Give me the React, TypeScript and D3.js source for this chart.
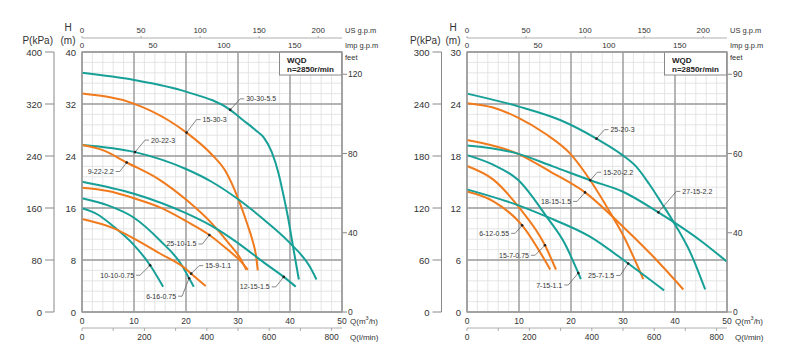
import React from 'react';
import * as d3 from 'd3';

type Pt = [number, number];

// ---------- shared axis ticks ----------
const Q_TICKS = [0, 10, 20, 30, 40, 50];
const LMIN_TICKS = [0, 100, 200, 300, 400, 500, 600, 700, 800];
const LMIN_LABELS = [0, 200, 400, 600, 800];
const US_GPM_TICKS = [0, 50, 100, 150, 200];
const IMP_GPM_TICKS = [0, 50, 100, 150];

// ---------- left chart ----------
const L_H_TICKS = [0, 8, 16, 24, 32, 40];
const L_P_TICKS = [0, 80, 160, 240, 320, 400];
const L_FEET_TICKS = [0, 40, 80, 120];
const L_FEET_LABELS = ['0', '40', '80', '120'];

const L_30_30_55: Pt[] = [[0, 36.8], [10, 35.7], [20, 33.9], [28.5, 31.1], [31, 29.5], [33.5, 27.9], [35, 26.8], [36.5, 24.6], [37.8, 21.3], [38.6, 18.5], [39.7, 14.2], [40.6, 10.0], [41.7, 5.0]];
const L_15_30_3: Pt[] = [[0, 33.6], [9.8, 32.1], [16.6, 29.5], [20.1, 27.6], [25, 24.2], [27.5, 21.8], [30.1, 17.3], [31.8, 13.5], [32.75, 11.1], [33.5, 8.5], [33.8, 6.4]];
const L_20_22_3: Pt[] = [[0, 25.7], [10.2, 24.6], [20, 22.0], [25, 20.0], [30.1, 17.3], [35, 14.2], [40, 10.6], [43.8, 7.0], [45.1, 5.0]];
const L_9_22_22: Pt[] = [[0, 25.7], [4, 24.9], [8.6, 23.0], [15, 20.3], [20, 17.3], [25, 13.6], [28, 10.8], [30.4, 8.3], [31.6, 6.5]];
const L_25_10_15: Pt[] = [[0, 19.1], [5, 18.6], [10, 17.5], [15, 16.1], [20, 14.0], [24.5, 11.85], [28, 9.6], [30.4, 7.9], [31.9, 6.5]];
const L_12_15_15: Pt[] = [[0, 20.05], [10, 18.2], [20, 15.2], [25, 13.2], [30, 10.6], [35, 7.6], [38.8, 5.4], [41.1, 3.9]];
const L_6_16_075: Pt[] = [[0, 17.5], [5, 16.4], [10, 14.5], [15, 11.0], [19.2, 7.2], [20.6, 5.2], [21.5, 3.9]];
const L_10_10_075: Pt[] = [[0, 15.95], [3, 15.0], [6, 13.2], [10, 10.3], [13.1, 7.2], [15.6, 3.9]];
const L_15_9_11: Pt[] = [[0, 14.3], [6, 12.9], [10, 11.3], [15, 9.0], [20, 6.6], [21, 5.9], [23.8, 4.0]];

// ---------- right chart ----------
const R_H_TICKS = [0, 6, 12, 18, 24, 30];
const R_P_TICKS = [0, 60, 120, 180, 240, 300];
const R_FEET_TICKS = [0, 30, 60, 90];
const R_FEET_LABELS = ['0', '40', '60', '90'];

const R_25_20_3: Pt[] = [[0, 25.2], [10, 23.7], [17.9, 22.15], [24.9, 20.0], [29.9, 18.1], [32.5, 16.8], [35, 14.8], [37.5, 12.5], [39.7, 10.4], [43, 6.8], [45.8, 2.6]];
const R_15_20_22: Pt[] = [[0, 24.1], [5, 23.6], [9.9, 22.4], [15, 20.6], [19.8, 18.3], [23.7, 15.2], [27.8, 11.2], [29.9, 9.0], [33.9, 3.8]];
const R_18_15_15: Pt[] = [[0, 19.85], [9.6, 18.3], [16, 16.2], [22.7, 13.8], [29.9, 9.9], [35.8, 6.4], [41.6, 2.6]];
const R_27_15_22: Pt[] = [[0, 19.2], [9.6, 18.3], [16.5, 16.8], [23.7, 15.2], [29.9, 13.9], [36.8, 11.5], [39.7, 10.4], [45, 8.2], [50, 5.8]];
const R_7_15_11: Pt[] = [[0, 18.1], [5, 17.0], [9.9, 15.2], [15.3, 11.0], [18.8, 7.9], [21.4, 4.5], [21.9, 3.8]];
const R_15_7_075: Pt[] = [[0, 16.85], [5, 15.3], [9.9, 12.15], [15, 7.7], [17.1, 4.9]];
const R_6_12_055: Pt[] = [[0, 13.9], [5, 12.8], [10.6, 10.0], [16, 4.9]];
const R_25_7_15: Pt[] = [[0, 14.15], [9.9, 12.3], [15.3, 11.0], [23.65, 8.7], [31, 5.6], [37.9, 2.5]];

const TEAL = '#17a097';
const ORANGE = '#f07a1c';
const FONT = "'Liberation Sans', Arial, Helvetica, sans-serif";

interface Curve { name: string; pts: Pt[]; color: string }
interface Label { name: string; q: number; ex: number; ey: number }

const LEFT_CURVES: Curve[] = [
  { name: '30-30-5.5', pts: L_30_30_55, color: TEAL },
  { name: '15-30-3', pts: L_15_30_3, color: ORANGE },
  { name: '20-22-3', pts: L_20_22_3, color: TEAL },
  { name: '9-22-2.2', pts: L_9_22_22, color: ORANGE },
  { name: '12-15-1.5', pts: L_12_15_15, color: TEAL },
  { name: '25-10-1.5', pts: L_25_10_15, color: ORANGE },
  { name: '6-16-0.75', pts: L_6_16_075, color: TEAL },
  { name: '10-10-0.75', pts: L_10_10_075, color: TEAL },
  { name: '15-9-1.1', pts: L_15_9_11, color: ORANGE },
];

const RIGHT_CURVES: Curve[] = [
  { name: '25-20-3', pts: R_25_20_3, color: TEAL },
  { name: '15-20-2.2', pts: R_15_20_22, color: ORANGE },
  { name: '18-15-1.5', pts: R_18_15_15, color: ORANGE },
  { name: '27-15-2.2', pts: R_27_15_22, color: TEAL },
  { name: '7-15-1.1', pts: R_7_15_11, color: TEAL },
  { name: '15-7-0.75', pts: R_15_7_075, color: ORANGE },
  { name: '6-12-0.55', pts: R_6_12_055, color: ORANGE },
  { name: '25-7-1.5', pts: R_25_7_15, color: TEAL },
];

const LEFT_LABELS: Label[] = [
  { name: '30-30-5.5', q: 28.5, ex: 10, ey: -11 },
  { name: '15-30-3', q: 20.1, ex: 10, ey: -13 },
  { name: '20-22-3', q: 10.2, ex: 10, ey: -12 },
  { name: '9-22-2.2', q: 8.6, ex: -7, ey: 9 },
  { name: '25-10-1.5', q: 24.5, ex: -7, ey: 9 },
  { name: '15-9-1.1', q: 21, ex: 8, ey: -8 },
  { name: '10-10-0.75', q: 13.1, ex: -10, ey: 10 },
  { name: '6-16-0.75', q: 20.6, ex: -7, ey: 18 },
  { name: '12-15-1.5', q: 38.8, ex: -8, ey: 10 },
];

const RIGHT_LABELS: Label[] = [
  { name: '25-20-3', q: 24.9, ex: 8, ey: -9 },
  { name: '15-20-2.2', q: 23.7, ex: 7, ey: -8 },
  { name: '18-15-1.5', q: 22.7, ex: -8, ey: 9 },
  { name: '27-15-2.2', q: 36.8, ex: 18, ey: -21 },
  { name: '6-12-0.55', q: 10.6, ex: -7, ey: 8 },
  { name: '15-7-0.75', q: 15, ex: -10, ey: 10 },
  { name: '7-15-1.1', q: 21.4, ex: -10, ey: 12 },
  { name: '25-7-1.5', q: 31, ex: -8, ey: 12 },
];

function interpH(pts: Pt[], q: number): number {
  for (let i = 0; i < pts.length - 1; i++) {
    const [x1, y1] = pts[i];
    const [x2, y2] = pts[i + 1];
    if (q >= x1 && q <= x2) return y1 + ((q - x1) / (x2 - x1)) * (y2 - y1);
  }
  return pts[pts.length - 1][1];
}

interface ChartProps {
  x0: number;
  pGap: number;
  hMax: number;
  pMax: number;
  hTicks: number[];
  pTicks: number[];
  feetTicks: number[];
  feetLabels: string[];
  curves: Curve[];
  labels: Label[];
}

const TOP = 52;
const BOTTOM = 312;
const PW = 260;

function PumpChart(props: ChartProps) {
  const { x0, pGap, hMax, pMax, hTicks, pTicks, feetTicks, feetLabels, curves, labels } = props;
  const x = d3.scaleLinear().domain([0, 50]).range([x0, x0 + PW]);
  const y = d3.scaleLinear().domain([0, hMax]).range([BOTTOM, TOP]);
  const yP = d3.scaleLinear().domain([0, pMax]).range([BOTTOM, TOP]);
  const xUS = d3.scaleLinear().domain([0, 50 * 4.4029]).range([x0, x0 + PW]);
  const xImp = d3.scaleLinear().domain([0, 50 * 3.6662]).range([x0, x0 + PW]);
  const xL = d3.scaleLinear().domain([0, 50 * 16.6667]).range([x0, x0 + PW]);
  const line = d3.line<Pt>().x(d => x(d[0])).y(d => y(d[1])).curve(d3.curveMonotoneX);

  const minorX = d3.range(0, 50.001, 2);
  const minorY = d3.range(0, hMax + 1e-6, hMax / 25);
  const pAxisX = x0 - pGap;
  const xr = x0 + PW;

  return (
    <g fontFamily={FONT}>
      {/* minor grid */}
      {minorX.map((v, i) => (
        <line key={'mx' + i} x1={x(v)} x2={x(v)} y1={TOP} y2={BOTTOM} stroke="#dedede" strokeWidth={0.8} />
      ))}
      {minorY.map((v, i) => (
        <line key={'my' + i} x1={x0} x2={xr} y1={y(v)} y2={y(v)} stroke="#dedede" strokeWidth={0.8} />
      ))}
      {/* major grid */}
      {Q_TICKS.map(v => (
        <line key={'gx' + v} x1={x(v)} x2={x(v)} y1={TOP} y2={BOTTOM} stroke="#9c9c9c" strokeWidth={1.4} />
      ))}
      {hTicks.map(v => (
        <line key={'gy' + v} x1={x0} x2={xr} y1={y(v)} y2={y(v)} stroke="#9c9c9c" strokeWidth={1.4} />
      ))}

      {/* curves */}
      {curves.map(c => (
        <path key={c.name} d={line(c.pts) || ''} fill="none" stroke={c.color} strokeWidth={2} />
      ))}

      {/* labels */}
      {labels.map(l => {
        const c = curves.find(cc => cc.name === l.name)!;
        const px = x(l.q);
        const py = y(interpH(c.pts, l.q));
        const sgn = l.ex >= 0 ? 1 : -1;
        const exx = px + l.ex;
        const eyy = py + l.ey;
        return (
          <g key={'lab' + l.name}>
            <polyline points={`${px},${py} ${exx},${eyy} ${exx + sgn * 4},${eyy}`} fill="none" stroke="#555" strokeWidth={0.7} />
            <circle cx={px} cy={py} r={1.3} fill="#222" />
            <text x={exx + sgn * 6} y={eyy} fontSize={7} fill="#333" dominantBaseline="central" textAnchor={sgn > 0 ? 'start' : 'end'}>{l.name}</text>
          </g>
        );
      })}

      {/* WQD box */}
      <rect x={x0 + 197.5} y={TOP} width={62} height={23} fill="#fff" stroke="#888" strokeWidth={1} />
      <text x={x0 + 205} y={TOP + 8.5} fontSize={8} fontWeight="bold" fill="#222" dominantBaseline="central">WQD</text>
      <text x={x0 + 205} y={TOP + 17} fontSize={8} fontWeight="bold" fill="#222" dominantBaseline="central">n=2850r/min</text>

      {/* H tick labels */}
      {hTicks.map(v => (
        <text key={'ht' + v} x={x0 - 6} y={y(v)} fontSize={9.5} fill="#333" textAnchor="end" dominantBaseline="central">{v}</text>
      ))}
      <text x={x0 - 14} y={27} fontSize={10} fill="#333" textAnchor="middle" dominantBaseline="central">H</text>
      <text x={x0 - 14} y={40} fontSize={10} fill="#333" textAnchor="middle" dominantBaseline="central">(m)</text>

      {/* P axis */}
      <line x1={pAxisX} x2={pAxisX} y1={TOP} y2={BOTTOM} stroke="#888" strokeWidth={1} />
      {pTicks.map(v => (
        <g key={'pt' + v}>
          <line x1={pAxisX - 9} x2={pAxisX} y1={yP(v)} y2={yP(v)} stroke="#888" strokeWidth={1} />
          <text x={pAxisX - 12} y={yP(v)} fontSize={9.5} fill="#333" textAnchor="end" dominantBaseline="central">{v}</text>
        </g>
      ))}
      <text x={pAxisX - 1} y={40} fontSize={10} fill="#333" textAnchor="end" dominantBaseline="central">P(kPa)</text>

      {/* feet axis */}
      {feetTicks.map((v, i) => (
        <g key={'ft' + v}>
          <line x1={xr} x2={xr + 5} y1={y(v * 0.3048)} y2={y(v * 0.3048)} stroke="#888" strokeWidth={1} />
          <text x={xr + 6} y={y(v * 0.3048)} fontSize={8.5} fill="#333" dominantBaseline="central">{feetLabels[i]}</text>
        </g>
      ))}
      <text x={xr + 3} y={57} fontSize={7.5} fill="#333" dominantBaseline="central">feet</text>

      {/* top axes */}
      <line x1={x0} x2={xr} y1={38} y2={38} stroke="#999" strokeWidth={0.8} />
      {US_GPM_TICKS.map(v => (
        <g key={'us' + v}>
          <line x1={xUS(v)} x2={xUS(v)} y1={36} y2={38} stroke="#999" strokeWidth={0.8} />
          <text x={xUS(v)} y={30.5} fontSize={8} fill="#333" textAnchor="middle" dominantBaseline="central">{v}</text>
        </g>
      ))}
      <text x={xr + 3} y={30} fontSize={7.5} fill="#333" dominantBaseline="central">US g.p.m</text>
      {IMP_GPM_TICKS.map(v => (
        <text key={'imp' + v} x={xImp(v)} y={45.5} fontSize={8} fill="#333" textAnchor="middle" dominantBaseline="central">{v}</text>
      ))}
      <text x={xr + 3} y={45} fontSize={7.5} fill="#333" dominantBaseline="central">Imp g.p.m</text>

      {/* bottom axes */}
      {Q_TICKS.map(v => (
        <text key={'q' + v} x={x(v)} y={321} fontSize={8.5} fill="#333" textAnchor="middle" dominantBaseline="central">{v}</text>
      ))}
      <text x={xr + 8} y={321} fontSize={8} fill="#333" dominantBaseline="central">Q(m<tspan fontSize={5.5} dy={-3}>3</tspan><tspan dy={3}>/h)</tspan></text>
      <line x1={x0} x2={xr} y1={328} y2={328} stroke="#999" strokeWidth={0.8} />
      {LMIN_TICKS.map(v => (
        <line key={'lt' + v} x1={xL(v)} x2={xL(v)} y1={328} y2={331} stroke="#999" strokeWidth={0.8} />
      ))}
      {LMIN_LABELS.map(v => (
        <text key={'ll' + v} x={xL(v)} y={337} fontSize={8.5} fill="#333" textAnchor="middle" dominantBaseline="central">{v}</text>
      ))}
      <text x={xr + 8} y={337} fontSize={8} fill="#333" dominantBaseline="central">Q(l/min)</text>

      {/* plot border */}
      <rect x={x0} y={TOP} width={PW} height={BOTTOM - TOP} fill="none" stroke="#9c9c9c" strokeWidth={1.4} />
    </g>
  );
}

export default function App() {
  return (
    <svg width={800} height={360} style={{ position: 'absolute', left: 0, top: 0, background: '#fff' }}>
      <rect x={0} y={0} width={800} height={360} fill="#fff" />
      <PumpChart x0={82} pGap={28} hMax={40} pMax={400} hTicks={L_H_TICKS} pTicks={L_P_TICKS}
        feetTicks={L_FEET_TICKS} feetLabels={L_FEET_LABELS} curves={LEFT_CURVES} labels={LEFT_LABELS} />
      <PumpChart x0={467} pGap={25.5} hMax={30} pMax={300} hTicks={R_H_TICKS} pTicks={R_P_TICKS}
        feetTicks={R_FEET_TICKS} feetLabels={R_FEET_LABELS} curves={RIGHT_CURVES} labels={RIGHT_LABELS} />
    </svg>
  );
}
